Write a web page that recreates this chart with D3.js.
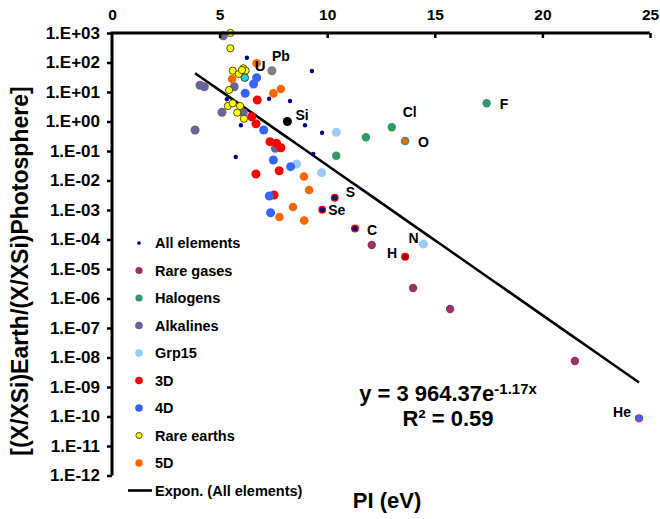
<!DOCTYPE html>
<html>
<head>
<meta charset="utf-8">
<script src="https://cdn.jsdelivr.net/npm/d3@7"></script>
<style>
  body { margin: 0; background: #fff; }
  svg { display: block; }
  text { font-family: "Liberation Sans", Arial, sans-serif; font-weight: bold; fill: #000; }
</style>
</head>
<body>
<svg id="chart" width="660" height="519"></svg>
<script>
// Each point: [first ionisation potential (eV), (X/XSi)Earth / (X/XSi)Photosphere]
const allElements = [
  [6.27, 145], [5.34, 5.66], [7.30, 5.93], [8.27, 4.95], [9.29, 51.5],
  [5.99, 0.743], [8.97, 0.743], [9.76, 0.417], [5.75, 0.0626], [9.35, 0.0791]
];
const rareGases = [[12.07, 6.5e-5], [13.99, 2.27e-6], [15.71, 4.4e-7], [21.51, 7.6e-9]];
const halogens = [[11.80, 0.291], [10.42, 0.0693]];
const alkalines = [
  [5.17, 810], [4.09, 16.9], [4.29, 15.1], [5.68, 15.1],
  [5.11, 2.05], [6.10, 1.99], [3.86, 0.515], [7.59, 0.124]
];
const grp15 = [[10.42, 0.43], [8.58, 0.0362], [9.74, 0.0184]];
const metals3d = [
  [6.75, 5.35], [6.49, 1.45], [6.69, 0.84], [7.34, 0.207], [7.65, 0.182],
  [7.85, 0.129], [6.69, 0.0166], [7.77, 0.0215], [7.53, 3.22e-3]
];
const metals4d = [
  [6.72, 30.5], [6.58, 18.7], [6.19, 9.0], [7.05, 0.515],
  [7.50, 0.0495], [8.30, 0.0294], [7.31, 2.98e-3], [7.37, 8.1e-4]
];
const rareEarths = [
  [5.50, 1.0e3], [5.50, 303], [5.61, 52.7], [5.89, 40.7], [6.10, 63.6],
  [6.21, 52.7], [6.04, 55.7], [5.44, 11.7], [5.38, 3.35], [5.61, 4.14],
  [5.82, 1.99], [6.13, 1.24], [5.95, 3.35]
];
const metals5d = [
  [6.72, 94], [5.58, 27.6], [7.50, 9.0], [7.85, 12.6], [8.92, 0.0137],
  [9.16, 4.76e-3], [8.41, 1.26e-3], [7.78, 5.8e-4], [8.93, 4.4e-4]
];

// Named elements
const elementNames = ["Pb", "U", "Si", "Cl", "F", "O", "S", "Se", "C", "N", "H", "He"];
const elementPI    = [7.43, 6.17, 8.15, 13.0, 17.41, 13.62, 10.35, 9.77, 11.29, 14.47, 13.62, 24.49];
const elementValue = [52.7, 30.5, 1.0, 0.636, 4.14, 0.218, 2.61e-3, 1.02e-3, 2.36e-4, 7.0e-5, 2.61e-5, 8.7e-11];

// Exponential fit of all elements
const fitA = 3964.37, fitB = -1.17, fitR2 = 0.59;

const xTicks = [0, 5, 10, 15, 20, 25];
const yExponents = d3.range(3, -13, -1);
const legendLabels = ["All elements", "Rare gases", "Halogens", "Alkalines", "Grp15", "3D", "4D", "Rare earths", "5D"];

// ---------------------------------------------------------------------------
const svg = d3.select("#chart");
const x = d3.scaleLinear().domain([0, 25]).range([112, 650]);
const y = d3.scaleLog().domain([1e-12, 1e3]).range([475.5, 33]);

const styles = {
  all:  { fill: "#000080", r: 2.2 },
  rare: { fill: "#993366", r: 4.2 },
  hal:  { fill: "#339966", r: 4.2 },
  alk:  { fill: "#666699", r: 4.5 },
  g15:  { fill: "#99ccff", r: 4.5 },
  d3:   { fill: "#ff0000", r: 4.5 },
  d4:   { fill: "#3366ff", r: 4.5 },
  re:   { fill: "#ffff00", r: 3.6, stroke: "#3f3f00", sw: 0.9 },
  d5:   { fill: "#ff6600", r: 4.3 }
};

function dots(data, st) {
  svg.append("g").selectAll("circle").data(data).join("circle")
    .attr("cx", d => x(d[0])).attr("cy", d => y(d[1]))
    .attr("r", st.r).attr("fill", st.fill)
    .attr("stroke", st.stroke || "none").attr("stroke-width", st.sw || 0);
}

// marker drawn for each named element
const namedStyle = {
  Pb: [{ fill: "#808080", r: 4.5 }],
  U:  [{ fill: "#33cccc", r: 3.8, stroke: "#2a3f3f", sw: 0.9 }],
  Si: [{ fill: "#000000", r: 4.5 }],
  Cl: [styles.hal],
  F:  [styles.hal],
  O:  [{ fill: "#339966", r: 4.3 }, { fill: "#ff6600", r: 3.0 }],
  S:  [{ fill: "#000080", r: 3.3, stroke: "#ff0000", sw: 1.3 }],
  Se: [{ fill: "#000080", r: 3.3, stroke: "#ff0000", sw: 1.3 }],
  C:  [{ fill: "#000080", r: 3.3, stroke: "#ff0000", sw: 1.3 }],
  N:  [styles.g15],
  H:  [{ fill: "#9a0000", r: 3.4, stroke: "#ff0000", sw: 1.2 }],
  He: [{ fill: "#3366ff", r: 3.5, stroke: "#cc3366", sw: 1.2 }]
};
// label offsets from the marker centre (px)
const labelOffset = {
  Pb: [0, -10], U: [10, -7], Si: [8, -2], Cl: [11, -10], F: [13, 6], O: [13, 6],
  S: [11, -1], Se: [6, 5], C: [12, 6.5], N: [-15, -1], H: [-18, 1], He: [-26, -1]
};

// trend line (drawn first, under the markers)
const allPI = [allElements, rareGases, halogens, alkalines, grp15, metals3d, metals4d, rareEarths, metals5d]
  .flat().map(d => d[0]).concat(elementPI);
const piMin = d3.min(allPI), piMax = d3.max(allPI);
const fitPts = d3.range(0, 41).map(i => {
  const p = piMin + (piMax - piMin) * i / 40;
  return [p, fitA * Math.exp(fitB * p)];
});
svg.append("path").datum(fitPts)
  .attr("d", d3.line().x(d => x(d[0])).y(d => y(d[1])))
  .attr("fill", "none").attr("stroke", "#000").attr("stroke-width", 2.6);

// point series in legend order
dots(allElements, styles.all);
dots(rareGases, styles.rare);
dots(halogens, styles.hal);
dots(alkalines, styles.alk);
dots(grp15, styles.g15);
dots(metals3d, styles.d3);
dots(metals4d, styles.d4);
dots(rareEarths, styles.re);
dots(metals5d, styles.d5);

// named elements and their labels
elementNames.forEach((n, i) => {
  const cx = x(elementPI[i]), cy = y(elementValue[i]);
  namedStyle[n].forEach(st => {
    svg.append("circle").attr("cx", cx).attr("cy", cy).attr("r", st.r)
      .attr("fill", st.fill).attr("stroke", st.stroke || "none").attr("stroke-width", st.sw || 0);
  });
  const o = labelOffset[n];
  svg.append("text").attr("x", cx + o[0]).attr("y", cy + o[1])
    .attr("font-size", n === "U" ? 15 : 14).text(n);
});

// axes
const xAxis = d3.axisTop(x).tickValues(xTicks).tickSize(-5).tickPadding(13).tickFormat(d3.format("d"));
const gx = svg.append("g").attr("transform", `translate(0,${y.range()[1]})`).call(xAxis);
gx.select(".domain").attr("stroke-width", 3).attr("d", `M${x.range()[0] - 1.5},0H${x.range()[1]}`);
gx.selectAll(".tick line").attr("stroke-width", 2.5);
gx.selectAll(".tick text").attr("font-size", 15.5).attr("font-family", null);
gx.selectAll(".tick").filter(d => d === 0).select("line").remove();

const expLabel = e => `1.E${e >= 0 ? "+" : "-"}${String(Math.abs(e)).padStart(2, "0")}`;
const yAxis = d3.axisLeft(y).tickValues(yExponents.map(e => Math.pow(10, e)))
  .tickSize(5).tickPadding(7).tickFormat(v => expLabel(Math.round(Math.log10(v))));
const gy = svg.append("g").attr("transform", `translate(${x.range()[0]},0)`).call(yAxis);
gy.select(".domain").attr("stroke-width", 3).attr("d", `M0,${y.range()[1]}V${y.range()[0]}`);
gy.selectAll(".tick line").attr("stroke-width", 2.5);
gy.selectAll(".tick text").attr("font-size", 17).attr("font-family", null);
svg.selectAll(".tick text").style("font-weight", "bold");

// axis titles
svg.append("text").attr("x", 387).attr("y", 508).attr("text-anchor", "middle")
  .attr("font-size", 22).text("PI (eV)");
svg.append("text").attr("transform", "translate(28,271) rotate(-90)").attr("text-anchor", "middle")
  .attr("font-size", 23).text("[(X/XSi)Earth/(X/XSi)Photosphere]");

// fit equation
const eq = svg.append("text").attr("x", 448).attr("y", 401).attr("text-anchor", "middle").attr("font-size", 22);
eq.append("tspan").text(`y = ${d3.format(",.2f")(fitA).replace(",", " ")}e`);
eq.append("tspan").attr("font-size", 15).attr("dy", -7).text(`${fitB.toFixed(2)}x`);
svg.append("text").attr("x", 448).attr("y", 426).attr("text-anchor", "middle").attr("font-size", 22)
  .text(`R² = ${fitR2.toFixed(2)}`);

// legend
const legendStyles = [styles.all, styles.rare, styles.hal, styles.alk, styles.g15, styles.d3, styles.d4, styles.re, styles.d5];
const lg = svg.append("g");
legendLabels.forEach((lab, i) => {
  const cy = 243 + i * 27.5, st = legendStyles[i];
  lg.append("circle").attr("cx", 139).attr("cy", cy).attr("r", st.r * 0.85)
    .attr("fill", st.fill).attr("stroke", st.stroke || "none").attr("stroke-width", st.sw || 0);
  lg.append("text").attr("x", 155).attr("y", cy + 5).attr("font-size", 14.5).text(lab);
});
const ly = 243 + 9 * 27.5;
lg.append("line").attr("x1", 128).attr("x2", 152).attr("y1", ly).attr("y2", ly)
  .attr("stroke", "#000").attr("stroke-width", 2.6);
lg.append("text").attr("x", 155).attr("y", ly + 5).attr("font-size", 14.5).text("Expon. (All elements)");
</script>
</body>
</html>
